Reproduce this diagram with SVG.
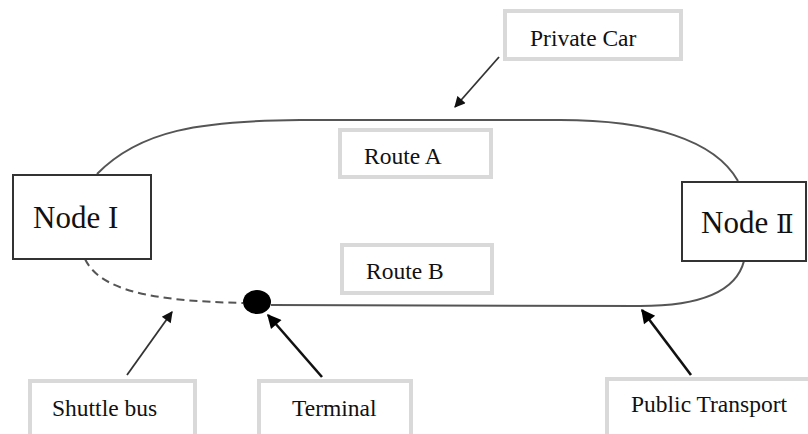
<svg xmlns="http://www.w3.org/2000/svg" width="808" height="434" viewBox="0 0 808 434">
<style>
.lbl{fill:#fff;stroke:#d9d9d9;stroke-width:4}
.node{fill:#fff;stroke:#333;stroke-width:2}
text{font-family:'Liberation Serif','DejaVu Serif',serif;fill:#111}
.ts{font-size:23.5px}
.tn{font-size:31px}
.route{fill:none;stroke:#555;stroke-width:2}
.thin{stroke:#333;stroke-width:1.8;fill:none}
.thick{stroke:#111;stroke-width:2.6;fill:none}
</style>
<defs>
<marker id="ah" viewBox="0 0 10 10" refX="9" refY="5" markerWidth="13" markerHeight="11" markerUnits="userSpaceOnUse" orient="auto">
<path d="M0,0 L10,5 L0,10 z" fill="#111"/>
</marker>
<marker id="ahb" viewBox="0 0 10 10" refX="9" refY="5" markerWidth="16" markerHeight="14" markerUnits="userSpaceOnUse" orient="auto">
<path d="M0,0 L10,5 L0,10 z" fill="#000"/>
</marker>
</defs>
<rect width="808" height="434" fill="#fff"/>
<g id="connectors">
<path class="route" d="M97,174 C140,130 200,121 300,120 L560,120 C650,120 715,140 738,181"/>
<path class="route" d="M271,305 L640,306 C700,306 736,292 744,261"/>
<path class="route" stroke-dasharray="8,5" d="M85,259 C100,290 150,301 243,303"/>
<path class="thin" d="M499,57 L455,107" marker-end="url(#ah)"/>
<path class="thin" d="M127,375 L172,312" marker-end="url(#ah)"/>
<path class="thick" d="M322,377 L268,315" marker-end="url(#ahb)"/>
<path class="thick" d="M691,375 L642,310" marker-end="url(#ahb)"/>
</g>
<g id="terminal-dot"><ellipse cx="257" cy="302" rx="14" ry="12" fill="#000"/></g>
<g id="node1"><rect class="node" x="13" y="175" width="138" height="84"/><text class="tn" x="33" y="228" font-family="Liberation Serif, serif">Node I</text></g>
<g id="node2"><rect class="node" x="682" y="182" width="124" height="79"/><text class="tn" x="701" y="233" font-family="Liberation Serif, serif">Node <tspan font-family="DejaVu Serif, Noto Sans CJK SC, serif" font-size="26">Ⅱ</tspan></text></g>
<g id="private-car"><rect class="lbl" x="505" y="11" width="176" height="48"/><text class="ts" x="530" y="46" font-family="Liberation Serif, serif">Private Car</text></g>
<g id="route-a"><rect class="lbl" x="340" y="130" width="151" height="47"/><text class="ts" x="364" y="164" font-family="Liberation Serif, serif">Route A</text></g>
<g id="route-b"><rect class="lbl" x="342" y="245" width="150" height="48"/><text class="ts" x="366" y="279" font-family="Liberation Serif, serif">Route B</text></g>
<g id="shuttle-bus"><rect class="lbl" x="30" y="381" width="165" height="70"/><text class="ts" x="52" y="416" font-family="Liberation Serif, serif">Shuttle bus</text></g>
<g id="terminal"><rect class="lbl" x="259" y="381" width="152" height="70"/><text class="ts" x="292" y="416" font-family="Liberation Serif, serif">Terminal</text></g>
<g id="public-transport"><rect class="lbl" x="607" y="379" width="215" height="70"/><text class="ts" x="631" y="412" font-family="Liberation Serif, serif">Public Transport</text></g>
</svg>
